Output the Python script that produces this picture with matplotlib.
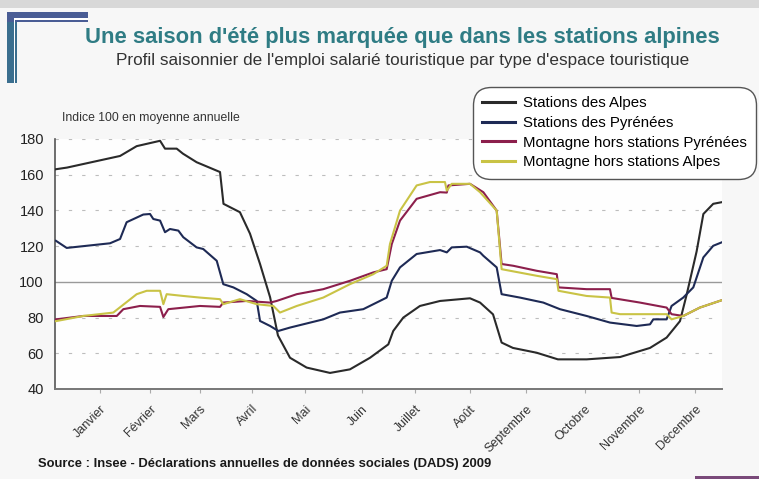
import matplotlib
matplotlib.use("Agg")
import matplotlib.pyplot as plt
from matplotlib.patches import Rectangle
import numpy as np

# ---------------- data ----------------
month_labels = ["Janvier", "Février", "Mars", "Avril", "Mai", "Juin", "Juillet",
                "Août", "Septembre", "Octobre", "Novembre", "Décembre"]
month_ticks = [24.6, 52.0, 79.3, 107.8, 136.8, 168.0, 197.0, 227.1, 257.7, 290.0, 319.5, 350.2]

alpes_x = [0, 6.6, 35.6, 44.7, 57.5, 60.2, 66.6, 70, 77.5, 90.3, 92.2, 101.2, 106.7, 112.2,
           117.7, 122, 128.6, 137.7, 150.5, 161.4, 172.4, 182.4, 185.1, 190.6, 199.7, 210.7,
           227.1, 232.6, 239.7, 244.4, 250.6, 263.6, 275.2, 290.9, 309.2, 325.6, 334.7, 342,
           345.7, 351.1, 354.8, 360.2, 364.8]
alpes_y = [163, 164, 170.5, 176, 179, 174.6, 174.6, 171.8, 167, 161.5, 143.7, 139, 127, 110,
           91.4, 70, 57.5, 52, 49, 51, 57.5, 65, 72.5, 80, 86.5, 89.3,
           90.8, 88.4, 81.8, 66, 63, 60.3, 56.6, 56.6, 57.9, 63, 68.8, 78,
           93, 117, 138, 143.7, 144.6]

pyr_x = [0.5, 6.4, 30.1, 35.6, 39.2, 48.3, 52, 53.8, 57.5, 60.2, 62.9, 67.5, 70.2, 77.5,
         81.1, 88.5, 92.1, 97.6, 104.9, 110.4, 112.2, 117.7, 122.2, 128.6, 146.8, 155.9,
         168.7, 181.5, 184.3, 188.8, 197.9, 210.7, 214.4, 217.1, 225.3, 232.6, 234.4, 241.7,
         244.4, 254.4, 267.2, 276.3, 290.9, 303.7, 318.3, 325.6, 327.4, 334.7, 337.4, 343.8,
         349.3, 354.8, 360.2, 364.8]
pyr_y = [123, 119, 121.6, 124, 133.4, 137.7, 138, 135.2, 134.3, 127.8, 129.6, 128.7, 125, 119.3,
         118.4, 111.8, 98.7, 96.9, 93.1, 89.3, 78.1, 75.3, 72.5, 74.4, 79, 82.8,
         84.7, 91.2, 100.6, 108.1, 115.6, 117.8, 116.5, 119.3, 119.7, 116.5, 114.6, 108.1,
         93.1, 91.2, 88.4, 84.7, 80.9, 77.2, 75.3, 76.2, 79, 79, 86.5, 91.2,
         96.9, 113.7, 120.2, 122.1]

hpyr_x = [0.5, 15.5, 33.8, 37.4, 46.5, 57.5, 59.3, 62, 79.3, 90.3, 92.1, 104.9, 117.7, 121.3,
          132.3, 146.8, 161.4, 174.2, 181.5, 184.3, 188.8, 197.9, 210.7, 214.4, 215.3, 227.1,
          234.4, 241.7, 244.4, 250.8, 263.6, 274.6, 275.5, 290.9, 303.7, 304.6, 320.1, 334.7,
          337.4, 343.8, 352.9, 364.8]
hpyr_y = [79, 80.9, 80.9, 84.7, 86.5, 86, 80.3, 84.7, 86.5, 86, 88.4, 89.3, 88.4, 89.3,
          93.1, 95.9, 100.6, 105.3, 107.1, 121.2, 134.3, 146.5, 150.2, 150, 154, 154.9,
          150.2, 139.9, 110, 109, 106.2, 104.3, 96.9, 95.9, 95.9, 91, 88.4, 85.6,
          81.9, 80.9, 85.6, 89.7]

halp_x = [0.5, 15.5, 31.9, 36.5, 44.7, 50.2, 57.5, 59.3, 61.1, 70.2, 79.3, 90.3, 92.1, 101.2,
          110.4, 119.5, 123.1, 132.3, 146.8, 161.4, 174.2, 181.5, 183.3, 188.8, 197.9, 205.2,
          213.4, 214.4, 217.1, 227.1, 232.6, 241.7, 244.4, 263.6, 274.6, 275.5, 290.9, 303.7,
          304.6, 309.2, 334.7, 337.4, 343.8, 352.9, 364.8]
halp_y = [78, 80.9, 82.8, 86.5, 93.1, 95, 95, 87.5, 93.1, 92.1, 91.2, 90.3, 87.5, 90.3,
          87.5, 86.5, 82.8, 86.5, 91.2, 98.7, 104.3, 109, 121.2, 139.9, 154, 155.9,
          155.9, 151.1, 154.9, 154.9, 150.2, 139.9, 107.1, 103.4, 101.5, 95, 92.1, 91.2,
          82.8, 81.9, 81.9, 79, 80.9, 85.6, 89.7]

series_names = ["Stations des Alpes", "Stations des Pyrénées",
                "Montagne hors stations Pyrénées", "Montagne hors stations Alpes"]
series_colors = ["#2a2a2a", "#1e2a55", "#8c1f4c", "#c9c345"]

# ---------------- figure ----------------
W, H = 759, 479
fig = plt.figure(figsize=(W / 100, H / 100), dpi=100, facecolor="#f7f7f7")
sans = ["Liberation Sans", "DejaVu Sans"]

# decorative top band and bracket
fig.patches.append(Rectangle((0, 1 - 8 / H), 1, 8 / H, transform=fig.transFigure,
                             facecolor="#d8d8d8", edgecolor="none", zorder=0))
fig.patches.append(Rectangle((7 / W, 1 - 83 / H), 10 / W, 71 / H, transform=fig.transFigure,
                             facecolor="#3b6f8f", edgecolor="none", zorder=1))
fig.patches.append(Rectangle((7 / W, 1 - 22 / H), 81 / W, 10 / H, transform=fig.transFigure,
                             facecolor="#4a5d95", edgecolor="none", zorder=1))
fig.patches.append(Rectangle((14 / W, 1 - 83 / H), 1.2 / W, 64 / H, transform=fig.transFigure,
                             facecolor="white", edgecolor="none", zorder=2))
fig.patches.append(Rectangle((14 / W, 1 - 19.5 / H), 74 / W, 1.2 / H, transform=fig.transFigure,
                             facecolor="white", edgecolor="none", zorder=2))
fig.patches.append(Rectangle((695 / W, 0), 64 / W, 3 / H, transform=fig.transFigure,
                             facecolor="#7a4a7a", edgecolor="none", zorder=1))

fig.text(402 / W, 1 - 38 / H, "Une saison d'été plus marquée que dans les stations alpines",
         ha="center", va="center", fontsize=15.8, fontweight="bold", color="#2f7c84",
         family=sans)
fig.text(403 / W, 1 - 60 / H,
         "Profil saisonnier de l'emploi salarié touristique par type d'espace touristique",
         ha="center", va="center", fontsize=12.3, color="#333333", family=sans)

ax = fig.add_axes([55 / W, 1 - 389 / H, (722 - 55) / W, (389 - 139) / H])
ax.set_facecolor("#fefefe")
ax.set_xlim(0, 365)
ax.set_ylim(40, 180)

for yv in [60, 80, 120, 140, 160, 180]:
    ax.axhline(yv, color="#bdbdbd", lw=0.8, ls=(0, (3, 9)), zorder=1)
ax.axhline(100, color="#9a9a9a", lw=1.0, zorder=1)

xs = [alpes_x, pyr_x, hpyr_x, halp_x]
ys = [alpes_y, pyr_y, hpyr_y, halp_y]
handles = []
for x, y, name, c in zip(xs, ys, series_names, series_colors):
    h, = ax.plot(x, y, color=c, lw=1.5, label=name, zorder=3, solid_joinstyle="round")
    handles.append(h)

for s in ["top", "right"]:
    ax.spines[s].set_visible(False)
ax.spines["left"].set_color("#555555")
ax.spines["bottom"].set_color("#777777")
ax.spines["left"].set_linewidth(1.2)
ax.spines["bottom"].set_linewidth(1.4)

ax.set_yticks([40, 60, 80, 100, 120, 140, 160, 180])
ax.tick_params(axis="y", length=0, pad=8, labelsize=10.5, labelcolor="#222222")
ax.set_xticks(month_ticks)
ax.set_xticklabels(month_labels, rotation=45, ha="right", rotation_mode="anchor",
                   fontsize=9, color="#333333", family=sans)
ax.tick_params(axis="x", length=3, color="#aaaaaa", pad=7)
for lab in ax.get_yticklabels():
    lab.set_family(sans)

fig.text(62 / W, 1 - 118 / H, "Indice 100 en moyenne annuelle", fontsize=8.8,
         color="#333333", va="center", family=sans)

fig.text(38 / W, 1 - 464 / H,
         "Source : Insee - Déclarations annuelles de données sociales (DADS) 2009",
         fontsize=9.4, fontweight="bold", color="#1a1a1a", va="center", family=sans)

leg = fig.legend(handles, series_names, loc="upper left", bbox_to_anchor=(468 / W, 1 - 82 / H),
                 bbox_transform=fig.transFigure, prop={"family": sans, "size": 10.8},
                 handlelength=2.2, handletextpad=0.5, labelspacing=0.38, borderpad=0.45,
                 frameon=True, fancybox=True, framealpha=1, facecolor="white",
                 edgecolor="#555555")
for lh in leg.get_lines():
    lh.set_linewidth(2.2)
leg.get_frame().set_boxstyle("round,pad=0.2,rounding_size=1.2")
leg.get_frame().set_linewidth(1.0)

fig.savefig("out.png", dpi=100, facecolor=fig.get_facecolor())
